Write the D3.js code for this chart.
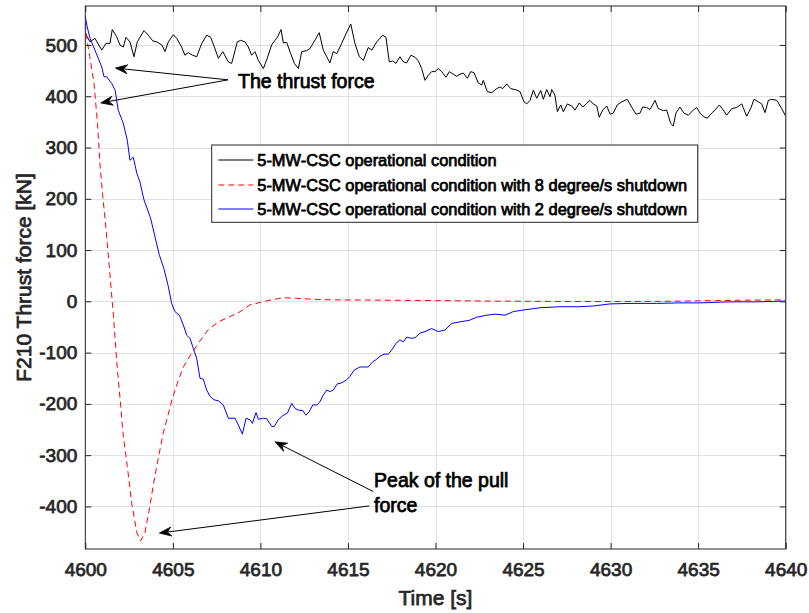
<!DOCTYPE html>
<html><head><meta charset="utf-8">
<script src="https://cdn.jsdelivr.net/npm/d3@7"></script>
<style>
body{margin:0;background:#fff;}
svg{display:block;font-family:Arial,"Liberation Sans",Helvetica,sans-serif;}
.heavy{paint-order:stroke;stroke-width:0.75px;stroke-linejoin:round;}
</style></head>
<body><svg id="chart" width="809" height="613"></svg>
<script>
// ---------- data ----------
const xTicks = [4600,4605,4610,4615,4620,4625,4630,4635,4640];
const yTicks = [-400,-300,-200,-100,0,100,200,300,400,500];
const xDomain = [4600,4640];
const yDomain = [-483,576];

const seriesNames = ["5-MW-CSC operational condition",
  "5-MW-CSC operational condition with 8 degree/s shutdown",
  "5-MW-CSC operational condition with 2 degree/s shutdown"];

const blackT = [4600.00,4600.11,4600.27,4600.55,4600.94,4601.18,4601.41,4601.54,4601.79,4601.98,4602.17,4602.32,4602.55,4602.78,4602.97,4603.35,4603.60,4603.85,4604.08,4604.37,4604.55,4604.74,4605.03,4605.22,4605.50,4605.69,4605.88,4606.13,4606.36,4606.65,4606.93,4607.16,4607.37,4607.60,4607.85,4608.17,4608.36,4608.68,4608.87,4609.12,4609.31,4609.50,4609.69,4609.88,4610.17,4610.39,4610.64,4610.83,4610.97,4611.18,4611.31,4611.50,4611.73,4611.94,4612.17,4612.36,4612.64,4612.83,4613.06,4613.36,4613.59,4613.79,4613.97,4614.16,4614.36,4614.64,4614.89,4615.16,4615.40,4615.65,4615.88,4616.16,4616.36,4616.64,4616.98,4617.17,4617.36,4617.55,4617.74,4617.97,4618.16,4618.35,4618.60,4618.83,4619.02,4619.21,4619.40,4619.59,4619.78,4619.97,4620.16,4620.35,4620.60,4620.79,4621.02,4621.21,4621.40,4621.59,4621.82,4622.01,4622.20,4622.44,4622.64,4622.73,4622.96,4623.21,4623.50,4623.68,4623.84,4624.07,4624.29,4624.64,4624.83,4625.05,4625.21,4625.40,4625.59,4625.78,4626.01,4626.16,4626.35,4626.54,4626.64,4626.82,4626.96,4627.15,4627.30,4627.53,4627.78,4627.97,4628.21,4628.41,4628.64,4628.82,4629.01,4629.21,4629.35,4629.55,4629.78,4629.97,4630.15,4630.38,4630.63,4630.95,4631.20,4631.45,4631.68,4631.83,4632.06,4632.25,4632.54,4632.72,4633.01,4633.20,4633.43,4633.58,4633.73,4633.96,4634.19,4634.44,4634.72,4634.92,4635.11,4635.33,4635.52,4635.77,4635.96,4636.21,4636.44,4636.63,4636.92,4637.20,4637.49,4637.77,4638.00,4638.19,4638.44,4638.63,4638.82,4639.01,4639.20,4639.49,4639.77,4640.00];
const blackV = [520,516,506,513,490,503,503,530,516,500,496,515,506,477,506,528,519,508,506,500,487,506,520,513,496,480,485,480,477,503,519,515,496,474,487,467,464,506,509,506,496,480,487,470,454,474,500,509,515,530,504,505,483,464,454,487,489,493,506,524,490,477,465,487,483,503,522,541,503,477,470,495,490,506,519,515,467,469,464,477,467,465,480,476,469,454,431,441,448,448,454,448,437,448,443,439,443,445,435,448,446,426,422,431,409,407,415,418,415,424,415,412,409,389,385,392,412,396,411,394,413,399,413,402,370,383,370,385,381,373,387,379,386,392,385,381,359,373,381,365,367,383,389,394,379,365,367,379,378,374,392,376,372,373,347,342,367,379,367,363,373,378,367,360,357,367,373,383,373,363,376,378,385,361,376,394,389,385,368,392,394,392,376,361];

const redT = [4600.00,4600.10,4600.25,4600.50,4600.70,4600.85,4601.00,4601.20,4601.40,4601.60,4601.80,4602.00,4602.15,4602.40,4602.65,4602.95,4603.16,4603.40,4603.65,4603.90,4604.15,4604.45,4604.70,4604.95,4605.25,4605.60,4606.00,4606.45,4607.00,4607.60,4608.25,4608.85,4609.40,4610.00,4610.55,4611.30,4612.05,4613.00,4614.00,4616.00,4618.00,4620.00,4623.00,4626.00,4630.00,4633.00,4636.00,4640.00];
const redV = [542,510,478,425,345,262,205,135,55,-25,-120,-195,-257,-322,-394,-452,-467,-452,-407,-355,-309,-257,-225,-192,-160,-128,-105,-82,-56,-40,-30,-20,-7,-2,2.5,7,6,4,3,2.5,2,1.5,0.5,0,-0.5,0,1.5,3];

const blueT = [4600.00,4600.11,4600.27,4600.55,4600.74,4600.94,4601.07,4601.22,4601.51,4601.70,4601.88,4602.17,4602.40,4602.55,4602.74,4602.94,4603.12,4603.35,4603.73,4603.98,4604.23,4604.49,4604.74,4604.93,4605.12,4605.37,4605.60,4605.79,4605.98,4606.17,4606.36,4606.55,4606.74,4606.93,4607.12,4607.35,4607.60,4607.88,4608.17,4608.55,4608.74,4608.97,4609.18,4609.41,4609.54,4609.75,4609.88,4610.17,4610.36,4610.65,4610.79,4611.02,4611.27,4611.54,4611.79,4611.98,4612.16,4612.42,4612.60,4612.79,4612.99,4613.22,4613.40,4613.59,4613.79,4613.97,4614.16,4614.39,4614.64,4614.93,4615.12,4615.36,4615.69,4615.92,4616.16,4616.41,4616.64,4616.83,4617.06,4617.30,4617.50,4617.74,4617.97,4618.16,4618.36,4618.64,4618.83,4619.12,4619.40,4619.78,4620.16,4620.54,4620.92,4621.40,4621.93,4622.35,4622.92,4623.40,4623.97,4624.44,4625.01,4625.97,4627.11,4628.25,4629.01,4629.97,4631.11,4632.63,4633.96,4635.10,4636.81,4638.34,4640.00];
const blueV = [555,535,513,490,474,457,438,438,425,412,373,347,314,275,281,250,233,198,162,126,90,64,29,-4,-20,-27,-46,-66,-72,-92,-111,-150,-152,-173,-185,-192,-194,-202,-228,-228,-241,-259,-228,-231,-238,-217,-230,-228,-229,-244,-244,-231,-223,-218,-199,-209,-212,-213,-222,-215,-202,-202,-196,-183,-173,-176,-173,-161,-159,-153,-146,-134,-128,-128,-128,-118,-113,-107,-103,-103,-95,-82,-75,-79,-70,-72,-71,-62,-59,-53,-59,-56,-43,-40,-37,-31,-27,-25,-27,-20,-17,-12.5,-10.5,-10.5,-9,-5,-4,-4,-3,-3,-1,-1,0.6];

// annotations (data coordinates)
const thrustLabel = {text:"The thrust force", t:4608.72, v:429};
const thrustArrows = [{t0:4608.15,v0:432,t1:4601.72,v1:455},{t0:4608.15,v0:432,t1:4600.88,v1:387}];
const pullLabel = {lines:["Peak of the pull","force"], t:4616.49, v:[-348,-397]};
const pullArrows = [{t0:4616.45,v0:-371,t1:4610.83,v1:-274},{t0:4616.22,v0:-399,t1:4604.23,v1:-452}];

// ---------- drawing ----------
const svg = d3.select("#chart");
const L=85.3,R=785.7,T=6,B=549;
const x = d3.scaleLinear().domain(xDomain).range([L,R]);
const y = d3.scaleLinear().domain(yDomain).range([B,T]);
const axisColor="#262626";

svg.append("rect").attr("x",L).attr("y",T).attr("width",R-L).attr("height",B-T).attr("fill","#fff");

// grid
const g = svg.append("g");
g.selectAll(".gx").data(xTicks).join("line")
  .attr("x1",d=>Math.round(x(d))+0.5).attr("x2",d=>Math.round(x(d))+0.5)
  .attr("y1",T).attr("y2",B).attr("stroke","#e1e1e1").attr("stroke-width",1);
g.selectAll(".gy").data(yTicks).join("line")
  .attr("y1",d=>Math.round(y(d))+0.5).attr("y2",d=>Math.round(y(d))+0.5)
  .attr("x1",L).attr("x2",R).attr("stroke","#e1e1e1").attr("stroke-width",1);

// clip
svg.append("clipPath").attr("id","clip").append("rect").attr("x",L).attr("y",T).attr("width",R-L).attr("height",B-T);
const plot = svg.append("g").attr("clip-path","url(#clip)");
const line = d3.line().x(d=>x(d[0])).y(d=>y(d[1]));
const zip=(a,b)=>a.map((t,i)=>[t,b[i]]);
plot.append("path").attr("d",line(zip(blackT,blackV))).attr("fill","none").attr("stroke","#000").attr("stroke-width",1);
plot.append("path").attr("d",line(zip(redT,redV))).attr("fill","none").attr("stroke","#ff0000").attr("stroke-width",1).attr("stroke-dasharray","6,4");
plot.append("path").attr("d",line(zip(blueT,blueV))).attr("fill","none").attr("stroke","#0000ff").attr("stroke-width",1);

// axes
const fmt = d => String(d);
const xAxisB = d3.axisBottom(x).tickValues(xTicks).tickSize(-6).tickPadding(14).tickFormat(fmt);
const xAxisT = d3.axisTop(x).tickValues(xTicks).tickSize(-6).tickFormat("");
const yAxisL = d3.axisLeft(y).tickValues(yTicks).tickSize(-6).tickPadding(8).tickFormat(fmt);
const yAxisR = d3.axisRight(y).tickValues(yTicks).tickSize(-6).tickFormat("");
function style(sel){
  sel.select(".domain").remove();
  sel.selectAll("line").attr("stroke",axisColor);
  sel.selectAll("text").attr("fill",axisColor).attr("stroke",axisColor).attr("class","heavy")
     .style("font-size","19px").style("font-family","Arial, 'Liberation Sans', sans-serif");
}
svg.append("g").attr("transform",`translate(0,${B})`).call(xAxisB).call(style);
svg.append("g").attr("transform",`translate(0,${T})`).call(xAxisT).call(style);
svg.append("g").attr("transform",`translate(${L},0)`).call(yAxisL).call(style);
svg.append("g").attr("transform",`translate(${R},0)`).call(yAxisR).call(style);
// frame
svg.append("rect").attr("x",L).attr("y",T).attr("width",R-L).attr("height",B-T)
  .attr("fill","none").attr("stroke",axisColor).attr("stroke-width",1);

// axis labels
svg.append("text").attr("x",(L+R)/2).attr("y",605).attr("text-anchor","middle")
  .attr("fill",axisColor).attr("stroke",axisColor).attr("class","heavy").style("font-size","21px").text("Time [s]");
svg.append("text").attr("transform",`translate(31,${(T+B)/2}) rotate(-90)`).attr("text-anchor","middle")
  .attr("fill",axisColor).attr("stroke",axisColor).attr("class","heavy").style("font-size","21px").text("F210 Thrust force [kN]");

// legend
const lg = svg.append("g");
lg.append("rect").attr("x",211.7).attr("y",145).attr("width",486).attr("height",77.3)
  .attr("fill","#fff").attr("stroke",axisColor).attr("stroke-width",1);
const legColors=["#000","#ff0000","#0000ff"], legDash=[null,"6,4",null], legY=[160,185,209];
seriesNames.forEach((n,i)=>{
  lg.append("line").attr("x1",218.3).attr("x2",253.3).attr("y1",legY[i]).attr("y2",legY[i])
    .attr("stroke",legColors[i]).attr("stroke-width",1).attr("stroke-dasharray",legDash[i]);
  lg.append("text").attr("x",257.3).attr("y",legY[i]).attr("dy","0.35em")
    .attr("fill","#000").attr("stroke","#000").attr("class","heavy").style("font-size","16.4px").text(n);
});

// annotations
function arrow(a){
  const x0=x(a.t0),y0=y(a.v0),x1=x(a.t1),y1=y(a.v1);
  const ang=Math.atan2(y1-y0,x1-x0), hl=12, hw=4.5, notch=8;
  const ux=Math.cos(ang),uy=Math.sin(ang),px=-uy,py=ux;
  svg.append("line").attr("x1",x0).attr("y1",y0).attr("x2",x1-ux*notch).attr("y2",y1-uy*notch)
    .attr("stroke","#000").attr("stroke-width",1);
  const pts=[[x1,y1],[x1-ux*hl+px*hw,y1-uy*hl+py*hw],[x1-ux*notch,y1-uy*notch],[x1-ux*hl-px*hw,y1-uy*hl-py*hw]];
  svg.append("path").attr("d","M"+pts.map(p=>p.join(",")).join("L")+"Z").attr("fill","#000").attr("stroke","#000").attr("stroke-width",0.8);
}
thrustArrows.forEach(arrow);
pullArrows.forEach(arrow);
svg.append("text").attr("x",x(thrustLabel.t)).attr("y",y(thrustLabel.v)).attr("dy","0.35em")
  .attr("fill","#000").attr("stroke","#000").attr("class","heavy").style("font-size","19.5px").text(thrustLabel.text);
pullLabel.lines.forEach((s,i)=>{
  svg.append("text").attr("x",x(pullLabel.t)).attr("y",y(pullLabel.v[i])).attr("dy","0.35em")
    .attr("fill","#000").attr("stroke","#000").attr("class","heavy").style("font-size","19.5px").text(s);
});
</script></body></html>
